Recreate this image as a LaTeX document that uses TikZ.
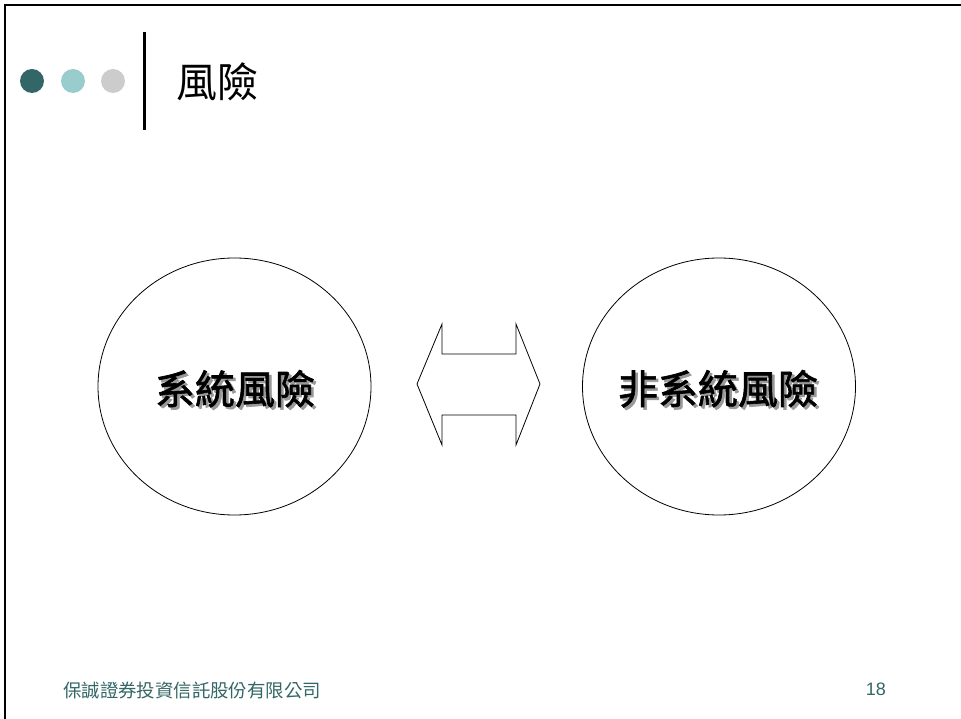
\documentclass[tikz,border=0pt]{standalone}
\usepackage{fontspec}
\setmainfont{Liberation Sans}
\newfontfamily\cjk{Noto Sans CJK TC}
\newfontfamily\cjkb[FakeBold=1.6]{Noto Sans CJK TC}
\definecolor{dotA}{HTML}{336666}
\definecolor{dotB}{HTML}{99CCCC}
\definecolor{dotC}{HTML}{CCCCCC}
\definecolor{foot}{HTML}{336666}
\newcommand{\shadowtext}[1]{\makebox[0pt][l]{\hspace{2.5pt}\raisebox{-2.5pt}{\textcolor{black!40}{#1}}}#1}
\tikzset{
  riskcircle/.style={draw=black, line width=0.8pt, ellipse, minimum width=273pt, minimum height=257pt, inner sep=0pt},
  bigtext/.style={font=\cjkb\fontsize{40pt}{42pt}\selectfont, inner sep=0pt},
  dotstyle/.style={circle, inner sep=0pt, minimum size=24pt},
}
\usetikzlibrary{shapes.geometric}
\begin{document}
\begin{tikzpicture}[x=1pt,y=-1pt]
\useasboundingbox (0,0) rectangle (961,719);
% frame
\draw[line width=2.2pt] (5,719) -- (5,5) -- (961,5);
% header dots and bar
\node[dotstyle, fill=dotA] (d1) at (32,81) {};
\node[dotstyle, fill=dotB] (d2) at (73,81) {};
\node[dotstyle, fill=dotC] (d3) at (113,81) {};
\draw[line width=3pt] (144,32) -- (144,130);
\node[font=\cjk\fontsize{41pt}{44pt}\selectfont, anchor=west, inner sep=0pt] (title) at (176,82) {風險};
% circles
\node[riskcircle] (left) at (234.5,386.5) {};
\node[riskcircle] (right) at (719,386.5) {};
\node[bigtext] (lt) at (235,390) {\shadowtext{系統風險}};
\node[bigtext] (rt) at (718,390) {\shadowtext{非系統風險}};
% double arrow
\draw[line width=0.8pt, line join=miter] (417,384) -- (442,324) -- (442,354) -- (516,354) -- (516,324) -- (540,384) -- (516,445) -- (516,415) -- (442,415) -- (442,445) -- cycle;
% footer
\node[font=\cjk\fontsize{18.4pt}{20pt}\selectfont, text=foot, anchor=west, inner sep=0pt] (company) at (63,690) {保誠證券投資信託股份有限公司};
\node[font=\fontsize{18pt}{20pt}\selectfont, text=foot, anchor=east, inner sep=0pt] (page) at (886,689) {18};
\end{tikzpicture}
\end{document}
